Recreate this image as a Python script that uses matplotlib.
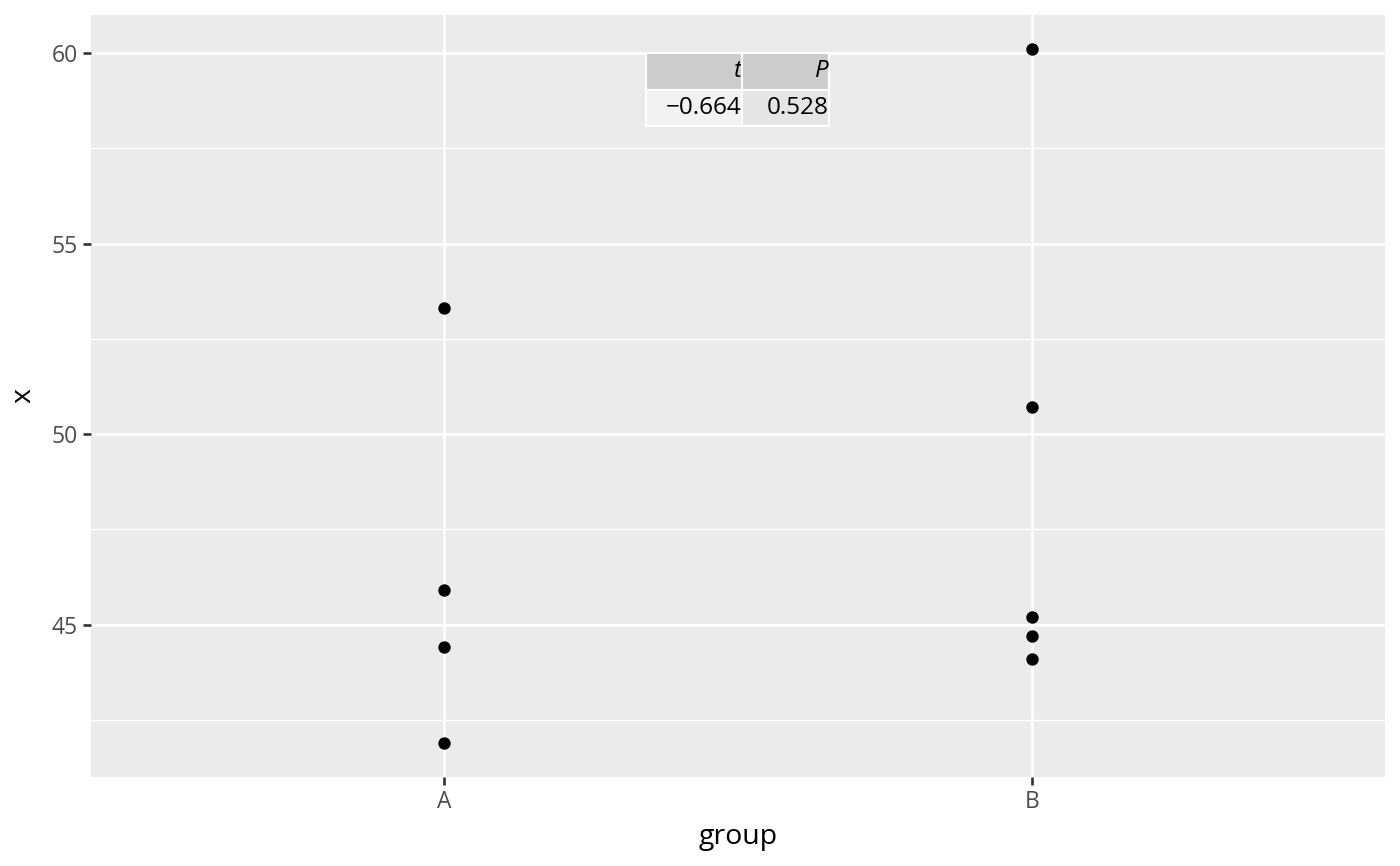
import matplotlib
matplotlib.use("Agg")
import matplotlib.pyplot as plt
from matplotlib.ticker import MultipleLocator

plt.rcParams['font.family'] = ['Open Sans', 'DejaVu Sans']

groups = ["A", "B"]
a_vals = [53.3, 45.9, 44.4, 41.9]
b_vals = [60.1, 50.7, 45.2, 44.7, 44.1]
tab_cols = ["t", "P"]
tab_vals = ["\u22120.664", "0.528"]

fig = plt.figure(figsize=(14, 8.66), dpi=100)
ax = fig.add_axes([91/1400, 1 - 777/866, (1385-91)/1400, (777-15)/866])
ax.set_facecolor("#ebebeb")
for s in ax.spines.values():
    s.set_visible(False)

xs = [1]*len(a_vals) + [2]*len(b_vals)
ys = a_vals + b_vals
ax.scatter(xs, ys, s=80, color="black", zorder=3, linewidths=0)

ax.set_xlim(0.4, 2.6)
ax.set_ylim(41.0, 61.0)
ax.set_xticks([1, 2])
ax.set_xticklabels(groups)
ax.yaxis.set_major_locator(MultipleLocator(5))
ax.yaxis.set_minor_locator(MultipleLocator(2.5))
ax.grid(which="major", color="white", linewidth=1.9, zorder=0)
ax.grid(which="minor", axis="y", color="white", linewidth=0.95, zorder=0)
ax.set_axisbelow(True)
ax.tick_params(which="major", length=5.5, width=1.9, color="#333333",
               labelcolor="#4d4d4d", labelsize=16.5, pad=4)
ax.tick_params(which="minor", length=0)
ax.set_xlabel("group", fontsize=20.5, labelpad=6)
ax.set_ylabel("x", fontsize=20.5, labelpad=10)

# table placed in data coordinates
x0, x1 = 1.344, 1.655
y_top, y_bot = 60.0, 58.08
p0 = ax.transAxes.inverted().transform(ax.transData.transform((x0, y_bot)))
p1 = ax.transAxes.inverted().transform(ax.transData.transform((x1, y_top)))
tb = ax.table(cellText=[tab_vals], colLabels=tab_cols, cellLoc="right",
              colLoc="right",
              bbox=[p0[0], p0[1], p1[0]-p0[0], p1[1]-p0[1]], zorder=4)
tb.auto_set_font_size(False)
wsplit = 96/183
body_colors = ["#f2f2f2", "#e5e5e5"]
for (r, c), cell in tb.get_celld().items():
    cell.set_edgecolor("white")
    cell.set_linewidth(1.5)
    cell.set_width(wsplit if c == 0 else 1 - wsplit)
    cell.PAD = 0.005
    txt = cell.get_text()
    txt.set_fontsize(17.5)
    if r == 0:
        cell.set_facecolor("#cccccc")
        txt.set_fontstyle("italic")
    else:
        cell.set_facecolor(body_colors[c])

fig.savefig("out.png", dpi=100)
